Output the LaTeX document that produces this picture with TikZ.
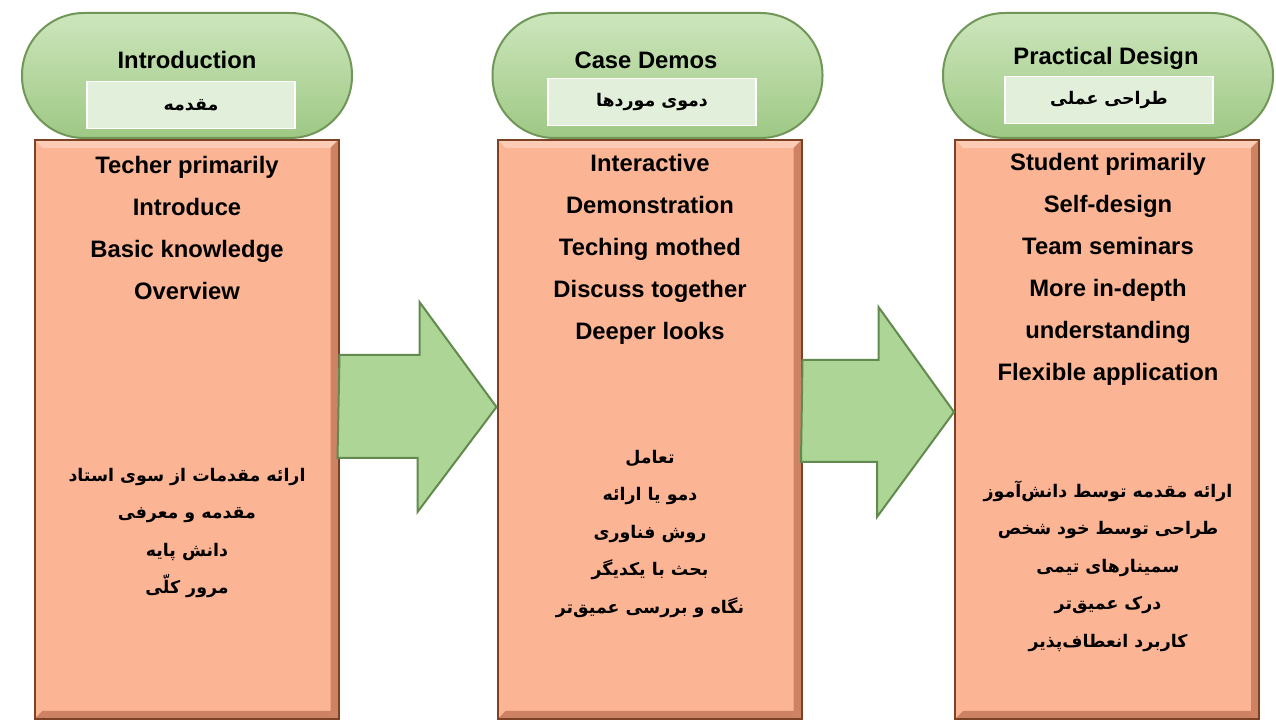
\documentclass[tikz,border=0pt]{standalone}
\usepackage{fontspec}
\setmainfont{Liberation Sans}
\newfontfamily\farsi[Script=Arabic]{DejaVu Sans}
\TeXXeTstate=1
\usetikzlibrary{calc}

\definecolor{salmonfill}{RGB}{251,181,149}
\definecolor{boxedge}{RGB}{125,65,35}
\definecolor{boxdark}{RGB}{205,130,100}
\definecolor{boxlight}{RGB}{253,204,182}
\definecolor{pilltop}{RGB}{205,230,188}
\definecolor{pillbottom}{RGB}{158,200,132}
\definecolor{pilledge}{RGB}{112,150,88}
\definecolor{subfill}{RGB}{226,239,218}
\definecolor{arrowfill}{RGB}{172,213,150}
\definecolor{arrowedge}{RGB}{98,138,78}

\newcommand{\fa}[1]{\beginR#1\endR}

\begin{document}
\begin{tikzpicture}[x=0.5pt, y=-0.5pt,
    stagebox/.style={draw=boxedge, line width=1pt, fill=salmonfill,
        minimum width=152pt, minimum height=289.5pt, inner sep=0pt,
        path picture={
            \fill[boxlight] (path picture bounding box.north west) -- (path picture bounding box.north east)
                -- ([shift={(-4pt,-4pt)}]path picture bounding box.north east)
                -- ([shift={(4pt,-4pt)}]path picture bounding box.north west) -- cycle;
            \fill[boxdark] (path picture bounding box.south west) -- (path picture bounding box.south east)
                -- ([shift={(-4pt,4pt)}]path picture bounding box.south east)
                -- ([shift={(4pt,4pt)}]path picture bounding box.south west) -- cycle;
            \fill[boxdark] (path picture bounding box.north east) -- (path picture bounding box.south east)
                -- ([shift={(-4pt,4pt)}]path picture bounding box.south east)
                -- ([shift={(-4pt,-4pt)}]path picture bounding box.north east) -- cycle;
        }},
    pill/.style={draw=pilledge, line width=1pt, top color=pilltop, bottom color=pillbottom,
        rounded corners=31pt, minimum width=165pt, minimum height=62.5pt, inner sep=0pt},
    subbox/.style={draw=white, line width=0.8pt, fill=subfill, minimum width=104pt,
        minimum height=23.5pt, inner sep=0pt, font=\farsi\bfseries\fontsize{8.7}{11}\selectfont},
    titletxt/.style={inner sep=0pt, font=\bfseries\fontsize{11.9}{14}\selectfont},
    entxt/.style={inner sep=0pt, align=center, font=\bfseries\fontsize{11.9}{21}\selectfont},
    fatxt/.style={inner sep=0pt, align=center, font=\farsi\bfseries\fontsize{8.7}{18.75}\selectfont},
    stagearrow/.style={draw=arrowedge, line width=1pt, fill=arrowfill, line join=miter}]
    \useasboundingbox (0,0) rectangle (1276,721);

    % the three stages
    \node[stagebox] (box1) at (186.5,429.5) {};
    \node[stagebox] (box2) at (649.5,429.5) {};
    \node[stagebox] (box3) at (1107,429.5) {};

    % headers
    \node[pill] (pill1) at (187,75.5) {};
    \node[pill] (pill2) at (657.5,75.5) {};
    \node[pill] (pill3) at (1108,75.5) {};
    \node[titletxt] (title1) at (187,60) {Introduction};
    \node[titletxt] (title2) at (646,60) {Case Demos};
    \node[titletxt] (title3) at (1106,58) {Practical Design};
    \node[subbox] (sub1) at (191,105) {\fa{مقدمه}};
    \node[subbox] (sub2) at (652,102) {\fa{دموی موردها}};
    \node[subbox] (sub3) at (1109,100) {\fa{طراحی عملی}};

    % arrows between the stages
    \draw[stagearrow] ([yshift=37.25pt]box1.east) -- ++(80,0) -- ++(0,-53)
        -- ([yshift=11.25pt]box2.west) -- ++(-79,105) -- ++(0,-54) -- ++(-80,0) -- cycle;
    \draw[stagearrow] ([yshift=34.75pt]box2.east) -- ++(76,0) -- ++(0,-53)
        -- ([yshift=8.75pt]box3.west) -- ++(-77,105) -- ++(0,-55) -- ++(-76,0) -- cycle;

    % English notes
    \node[entxt] (en1) at (187,228) {Techer primarily\\Introduce\\Basic knowledge\\Overview};
    \node[entxt] (en2) at (650,249) {Interactive\\Demonstration\\Teching mothed\\Discuss together\\Deeper looks};
    \node[entxt] (en3) at (1108,269) {Student primarily\\Self-design\\Team seminars\\More in-depth\\understanding\\Flexible application};

    % Persian notes
    \node[fatxt] (fa1) at (187,533) {\fa{ارائه مقدمات از سوی استاد}\\\fa{مقدمه و معرفی}\\\fa{دانش پایه}\\\fa{مرور کلّی}};
    \node[fatxt] (fa2) at (650,534) {\fa{تعامل}\\\fa{دمو یا ارائه}\\\fa{روش فناوری}\\\fa{بحث با یکدیگر}\\\fa{نگاه و بررسی عمیق^^^^200cتر}};
    \node[fatxt] (fa3) at (1108,566) {\fa{ارائه مقدمه توسط دانش^^^^200cآموز}\\\fa{طراحی توسط خود شخص}\\\fa{سمینارهای تیمی}\\\fa{درک عمیق^^^^200cتر}\\\fa{کاربرد انعطاف^^^^200cپذیر}};
\end{tikzpicture}
\end{document}
